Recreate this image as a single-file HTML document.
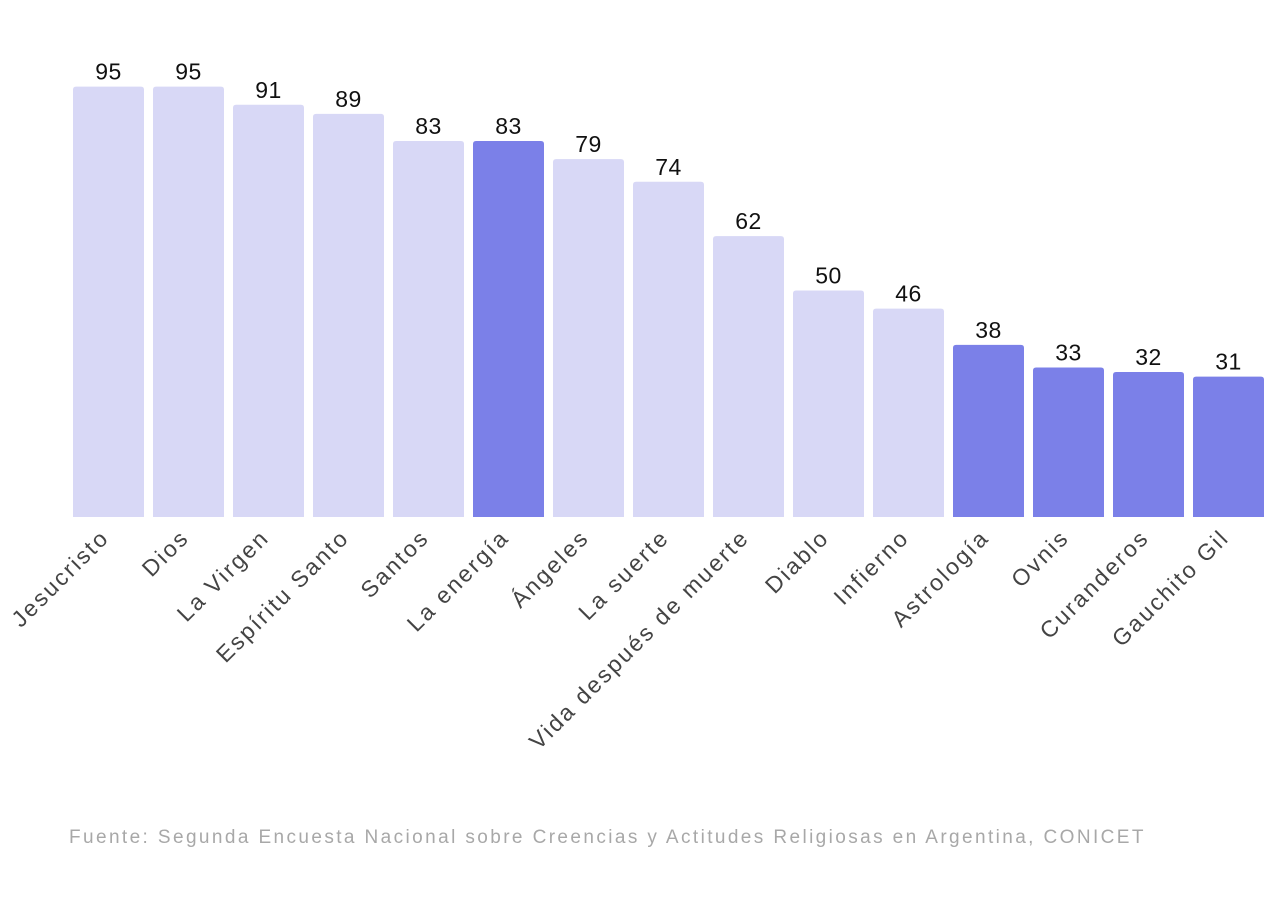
<!DOCTYPE html>
<html><head><meta charset="utf-8"><style>
body{margin:0;background:#fff;width:1280px;height:904px;overflow:hidden;font-family:"Liberation Sans",sans-serif}
</style></head><body>
<svg id="chart" width="1280" height="904" xmlns="http://www.w3.org/2000/svg">
<g id="bars"></g>
<g id="vals"></g>
<g id="cats"></g>
<text x="69" y="843" font-size="19" fill="#a8a8a8" letter-spacing="2.4">Fuente: Segunda Encuesta Nacional sobre Creencias y Actitudes Religiosas en Argentina, CONICET</text>
</svg>
<script>
const categories=["Jesucristo","Dios","La Virgen","Espíritu Santo","Santos","La energía","Ángeles","La suerte","Vida después de muerte","Diablo","Infierno","Astrología","Ovnis","Curanderos","Gauchito Gil"];
const values=[95,95,91,89,83,83,79,74,62,50,46,38,33,32,31];
const highlighted=[false,false,false,false,false,true,false,false,false,false,false,true,true,true,true];
const base=517, scale=4.53, x0=73, step=80, bw=71;
const yS=v=>base-v*scale, xS=i=>x0+i*step;
const NS="http://www.w3.org/2000/svg";
const gb=document.getElementById('bars'),gv=document.getElementById('vals'),gc=document.getElementById('cats');
values.forEach((v,i)=>{
  const x=xS(i),y=yS(v),r=3;
  const p=document.createElementNS(NS,'path');
  p.setAttribute('d',`M${x},${base}V${y+r}Q${x},${y} ${x+r},${y}H${x+bw-r}Q${x+bw},${y} ${x+bw},${y+r}V${base}Z`);
  p.setAttribute('fill',highlighted[i]?'#7b80e8':'#d8d8f6');
  
  
  gb.appendChild(p);
  const t=document.createElementNS(NS,'text');
  t.setAttribute('x',x+bw/2);t.setAttribute('y',y-7);
  t.setAttribute('text-anchor','middle');t.setAttribute('font-size','23');t.setAttribute('fill','#111');
  t.setAttribute('letter-spacing','0.5');
  t.textContent=v;
  
  
  gv.appendChild(t);
  const c=document.createElementNS(NS,'text');
  const cx=x+bw/2+2, cy=base+22;
  c.setAttribute('x',cx);c.setAttribute('y',cy);
  c.setAttribute('text-anchor','end');c.setAttribute('font-size','23');c.setAttribute('fill','#444');
  c.setAttribute('letter-spacing','2.3');
  c.setAttribute('transform',`rotate(-45 ${cx} ${cy})`);
  c.textContent=categories[i];
  
  
  gc.appendChild(c);
});
</script>
</body></html>
